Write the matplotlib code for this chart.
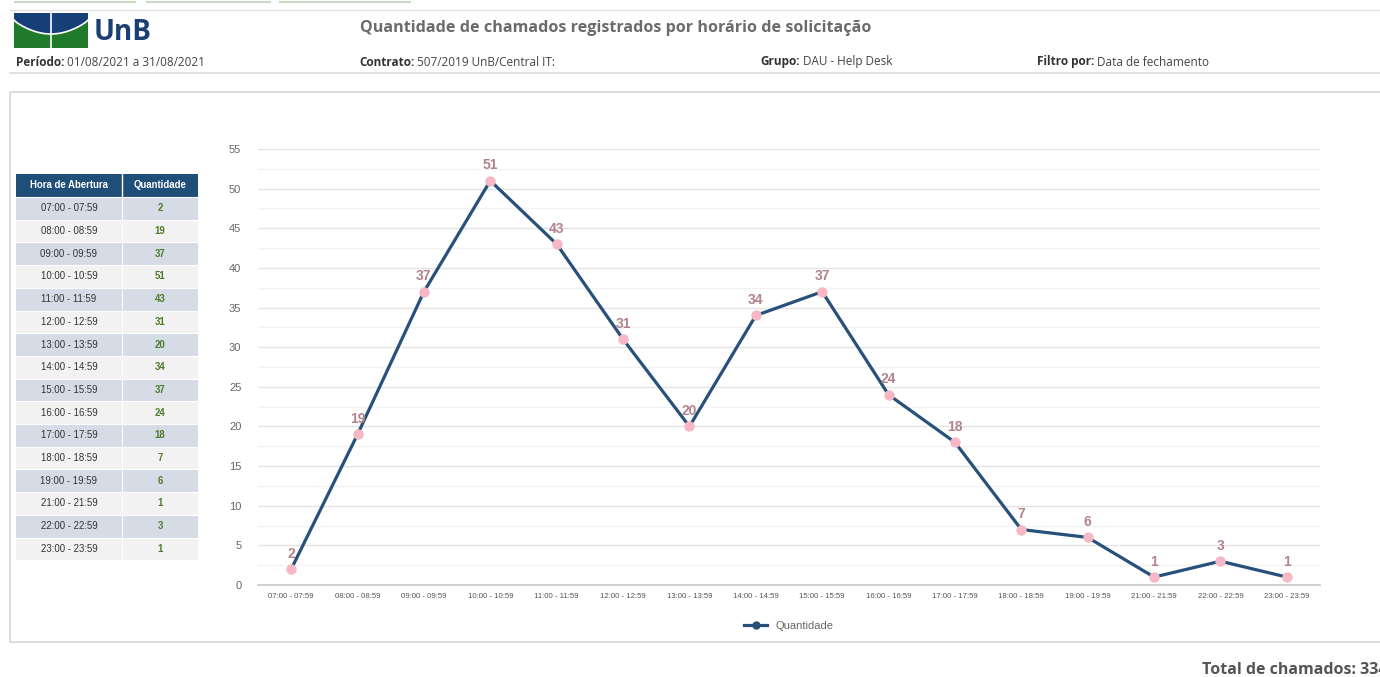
import numpy as np
import matplotlib
matplotlib.use("Agg")
import matplotlib.pyplot as plt
from matplotlib.patches import Rectangle, Polygon

plt.rcParams['font.family'] = ['Liberation Sans', 'DejaVu Sans']

horarios = ['07:00 - 07:59', '08:00 - 08:59', '09:00 - 09:59', '10:00 - 10:59',
            '11:00 - 11:59', '12:00 - 12:59', '13:00 - 13:59', '14:00 - 14:59',
            '15:00 - 15:59', '16:00 - 16:59', '17:00 - 17:59', '18:00 - 18:59',
            '19:00 - 19:59', '21:00 - 21:59', '22:00 - 22:59', '23:00 - 23:59']
quantidade = [2, 19, 37, 51, 43, 31, 20, 34, 37, 24, 18, 7, 6, 1, 3, 1]
total = 334

titulo = 'Quantidade de chamados registrados por horário de solicitação'
info = [('Período:', ' 01/08/2021 a 31/08/2021', 16),
        ('Contrato:', ' 507/2019 UnB/Central IT:', 359),
        ('Grupo:', ' DAU - Help Desk', 760),
        ('Filtro por:', ' Data de fechamento', 1037)]

azul = '#27507a'
rosa = '#f6b8c5'
rotulo = '#b2838c'

W, H = 1380, 677
fig = plt.figure(figsize=(W / 100, H / 100), dpi=100)

# fundo / cabecalho em coordenadas de pixel
bg = fig.add_axes([0, 0, 1, 1])
bg.set_xlim(0, W)
bg.set_ylim(H, 0)
bg.axis('off')

for x0, x1 in [(15, 135), (147, 270), (280, 410)]:
    bg.plot([x0, x1], [1.5, 1.5], color='#c9dcc2', lw=1.5)
bg.plot([10, W], [10, 10], color='#e2e2e2', lw=1)
bg.plot([10, W], [73, 73], color='#dcdcdc', lw=1.2)
bg.add_patch(Rectangle((10, 92), W, 550, fill=False, ec='#d6d6d6', lw=1.2))

# logo UnB
bg.add_patch(Rectangle((14, 13), 74, 35, color='#1f7a2a', lw=0))
t = np.linspace(0, 1, 40)
cx = 14 + 74 * t
cy = 20 + 14 * np.sin(np.pi * t) ** 0.8
bg.add_patch(Polygon(np.column_stack([np.r_[14, cx, 88], np.r_[13, cy, 13]]),
                     color='#173f77', lw=0))
bg.plot(cx, cy, color='white', lw=1.2)
bg.plot([51, 51], [13, 48], color='white', lw=1.2)
bg.text(94, 33, 'UnB', fontsize=20, fontweight='bold', color='#1b3f73',
        family=['Open Sans', 'DejaVu Sans'], va='center', ha='left')

bg.text(360, 28, titulo, fontsize=11.6, fontweight='bold', color='#6b6b6b',
        family=['Open Sans', 'DejaVu Sans'], va='center')

for rot, val, x in info:
    a = bg.text(x, 62, rot, fontsize=8.5, fontweight='bold', color='#333333',
                family=['Open Sans', 'DejaVu Sans'], va='center')
    bg.annotate(val, xycoords=a, xy=(1, 0.5), va='center', fontsize=8.5,
                color='#444444', family=['Open Sans', 'DejaVu Sans'])

bg.text(1202, 670, 'Total de chamados: %d' % total, fontsize=11.5, fontweight='bold',
        color='#555555', family=['Open Sans', 'DejaVu Sans'], va='center')

# tabela
tx0, tx1, tx2 = 16, 122, 198
ty0, hh, rh = 174, 23, 22.7
bg.add_patch(Rectangle((tx0, ty0), tx2 - tx0, hh, color='#1f4e79', lw=0))
bg.plot([tx1, tx1], [ty0, ty0 + hh], color='white', lw=1)
bg.text((tx0 + tx1) / 2, ty0 + hh / 2, 'Hora de Abertura', color='white',
        fontsize=6.9, fontweight='bold', ha='center', va='center')
bg.text((tx1 + tx2) / 2, ty0 + hh / 2, 'Quantidade', color='white',
        fontsize=6.9, fontweight='bold', ha='center', va='center')
for i, (h, q) in enumerate(zip(horarios, quantidade)):
    y = ty0 + hh + i * rh
    bg.add_patch(Rectangle((tx0, y), tx2 - tx0, rh,
                           color='#d5dce5' if i % 2 == 0 else '#f2f2f2', lw=0))
    bg.plot([tx0, tx2], [y, y], color='white', lw=0.8)
    bg.plot([tx1, tx1], [y, y + rh], color='white', lw=0.8)
    bg.text((tx0 + tx1) / 2, y + rh / 2, h, fontsize=6.9, color='#333333',
            ha='center', va='center')
    bg.text((tx1 + tx2) / 2, y + rh / 2, str(q), fontsize=6.9, color='#4d7a2b',
            fontweight='bold', ha='center', va='center')

# grafico
ax = fig.add_axes([258 / W, 1 - 585 / H, (1320 - 258) / W, (585 - 149) / H])
x = np.arange(len(horarios))
ax.plot(x, quantidade, color=azul, lw=2.3, marker='o', markersize=6.5,
        markerfacecolor=rosa, markeredgecolor=rosa, label='Quantidade', zorder=3)
for xi, q in zip(x, quantidade):
    ax.annotate(str(q), (xi, q), xytext=(0, 6), textcoords='offset points',
                ha='center', va='bottom', fontsize=10, fontweight='bold',
                color=rotulo, zorder=4)
ax.set_xlim(-0.5, len(horarios) - 0.5)
ax.set_ylim(0, 55)
ax.set_yticks(np.arange(0, 56, 5))
ax.set_yticks(np.arange(2.5, 55, 5), minor=True)
ax.set_xticks(x)
ax.set_xticklabels(horarios, fontsize=5.6, color='#555555')
ax.tick_params(axis='y', labelsize=8, colors='#666666', length=0, pad=12)
ax.tick_params(axis='x', length=0, pad=6)
ax.tick_params(which='minor', length=0)
ax.grid(axis='y', which='major', color='#e3e3e3', lw=1)
ax.grid(axis='y', which='minor', color='#f3f3f3', lw=1)
ax.set_axisbelow(True)
for s in ['top', 'right', 'left']:
    ax.spines[s].set_visible(False)
ax.spines['bottom'].set_color('#c8c8c8')
ax.spines['bottom'].set_linewidth(1.2)
leg = ax.legend(loc='upper center', bbox_to_anchor=(0.5, -0.06), frameon=False,
                fontsize=8, handlelength=2, labelcolor='#666666')
for h in leg.legend_handles:
    h.set_markerfacecolor(azul)
    h.set_markeredgecolor(azul)
    h.set_markersize(5)

fig.savefig('out.png', dpi=100)
